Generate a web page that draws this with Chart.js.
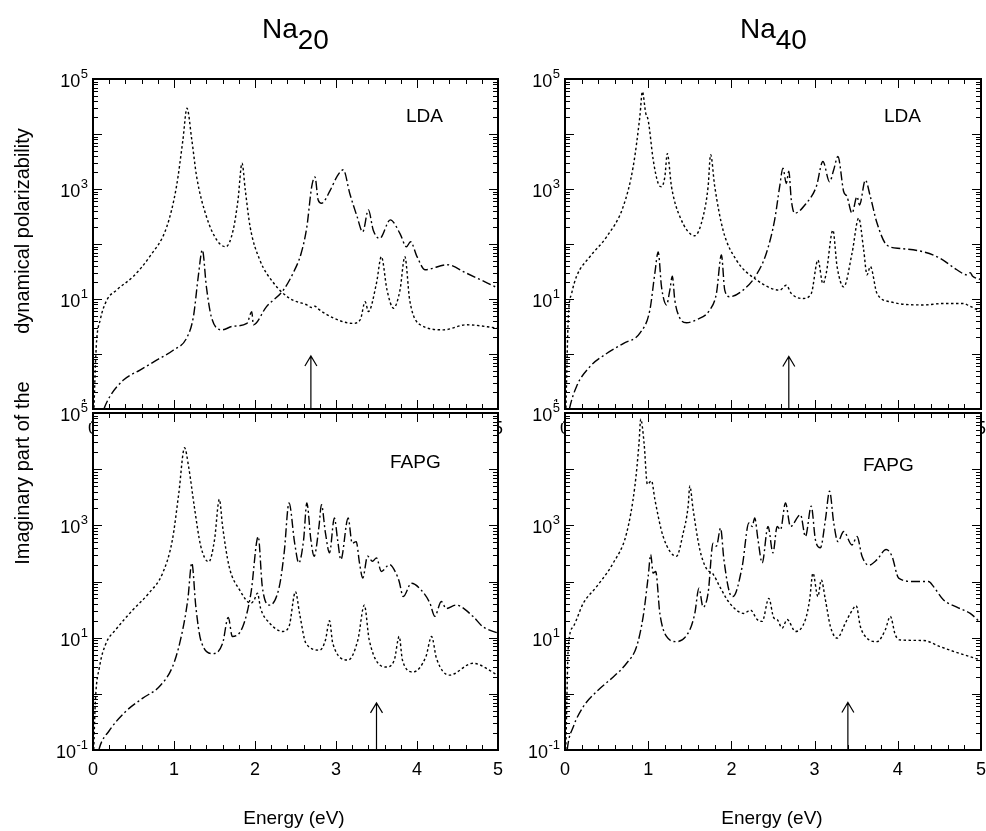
<!DOCTYPE html>
<html><head><meta charset="utf-8">
<script src="https://cdn.jsdelivr.net/npm/chart.js@4.4.1/dist/chart.umd.min.js"></script>
<style>
html,body{margin:0;padding:0;background:#fff;width:986px;height:831px;overflow:hidden;position:relative;}
canvas{position:absolute;left:0;top:0;}
.t{position:absolute;font-family:'Liberation Sans',Arial,Helvetica,sans-serif;color:#000;white-space:nowrap;}
</style></head><body>
<canvas id="c1" width="986" height="831"></canvas>
<canvas id="c2" width="986" height="831"></canvas>
<canvas id="c3" width="986" height="831"></canvas>
<canvas id="c4" width="986" height="831"></canvas>
<div class="t" style="left:262px;top:15px;font-size:28px;line-height:28px">Na<span style="position:relative;top:11px">20</span></div>
<div class="t" style="left:740px;top:15px;font-size:28px;line-height:28px">Na<span style="position:relative;top:11px">40</span></div>
<div class="t" style="left:-108px;top:221px;width:260px;height:20px;line-height:20px;font-size:20px;text-align:center;transform:rotate(-90deg)">dynamical polarizability</div>
<div class="t" style="left:-88px;top:463px;width:220px;height:20px;line-height:20px;font-size:20px;text-align:center;transform:rotate(-90deg)">Imaginary part of the</div>
<div class="t" style="left:194px;top:808px;width:200px;text-align:center;font-size:19px;line-height:19px">Energy (eV)</div>
<div class="t" style="left:672px;top:808px;width:200px;text-align:center;font-size:19px;line-height:19px">Energy (eV)</div>
<div class="t" style="left:406px;top:106px;font-size:19px;line-height:19px">LDA</div>
<div class="t" style="left:884px;top:106px;font-size:19px;line-height:19px">LDA</div>
<div class="t" style="left:390px;top:452px;font-size:19px;line-height:19px">FAPG</div>
<div class="t" style="left:863px;top:455px;font-size:19px;line-height:19px">FAPG</div>
<script>
// ---- data (Energy in eV, imaginary part of dynamical polarizability) ----
const xTickLabels = ['0','1','2','3','4','5'];
const yTickValues = [100000, 1000, 10, 0.1];
const yTickExponents = ['5','3','1','-1'];

// Na20, LDA
const na20LdaDotE = [0.00,0.04,0.09,0.17,0.29,0.50,0.70,0.91,1.03,1.11,1.16,1.22,1.28,1.40,1.53,1.64,1.73,1.79,1.84,1.88,1.94,2.06,2.23,2.43,2.64,2.70,2.74,2.78,2.97,3.21,3.30,3.36,3.40,3.50,3.56,3.63,3.71,3.79,3.85,3.91,4.04,4.33,4.61,5.00];
const na20LdaDotV = [0.03,1.35,4.2,9.5,14.5,26,59,204,1100,7800,29500,7800,1660,316,117,89,178,630,2950,955,204,51,19.5,10.2,7.8,7.0,7.4,6.6,4.5,3.6,4.2,8.9,5.9,19.5,59,14.5,6.8,14.5,59,9.5,3.4,2.75,3.4,2.95];
const na20LdaDashE = [0.08,0.13,0.21,0.38,0.58,0.79,0.99,1.16,1.24,1.30,1.35,1.40,1.46,1.59,1.73,1.90,1.96,1.98,2.14,2.35,2.47,2.57,2.64,2.70,2.74,2.78,2.82,2.93,3.01,3.09,3.17,3.26,3.33,3.40,3.46,3.54,3.67,3.79,3.87,3.92,4.00,4.10,4.37,4.61,5.00];
const na20LdaDashV = [0.05,0.095,0.17,0.34,0.51,0.78,1.17,2.0,4.8,26,78,16.6,4.8,2.75,3.2,3.6,5.9,3.4,7.2,14.5,29.5,68,204,1100,1660,630,550,955,1660,2240,830,316,166,417,178,126,275,155,89,110,59,34,42,29.5,15.8];

// Na40, LDA
const na40LdaDotE = [0.00,0.01,0.04,0.08,0.14,0.30,0.50,0.70,0.82,0.90,0.93,0.97,1.00,1.06,1.12,1.16,1.20,1.23,1.28,1.38,1.56,1.66,1.72,1.75,1.80,1.90,2.06,2.30,2.58,2.66,2.72,2.86,2.96,3.04,3.10,3.14,3.22,3.27,3.35,3.45,3.53,3.59,3.63,3.67,3.75,3.91,4.31,4.55,4.79,4.85,5.00];
const na40LdaDotV = [0.03,0.095,4.8,12.6,26,59,135,480,2570,21000,59000,24000,17800,3400,1260,1100,1660,4400,1100,316,141,316,1100,4200,1100,178,51,22.4,14.5,17.8,12.6,10.2,12.6,51,19,29.5,178,39,16.6,68,295,78,27.5,39,12.6,8.9,7.8,8.3,8.3,7.6,5.9];
const na40LdaDashE = [0.02,0.05,0.14,0.30,0.50,0.70,0.90,1.02,1.08,1.12,1.16,1.22,1.26,1.29,1.32,1.38,1.46,1.58,1.74,1.82,1.88,1.92,1.98,2.14,2.30,2.42,2.52,2.58,2.62,2.66,2.69,2.72,2.76,2.90,3.02,3.10,3.18,3.23,3.28,3.35,3.39,3.45,3.51,3.54,3.61,3.67,3.75,3.87,4.03,4.31,4.51,4.71,4.83,4.87,4.90,5.00];
const na40LdaDashV = [0.05,0.095,0.26,0.59,1.02,1.55,2.4,6.3,29.5,72,16.6,7.8,14.5,26,9.5,4.5,3.7,4.2,6.3,12.6,63,14.5,11,14.5,27.5,68,275,1100,2400,1260,2100,630,363,550,1100,3160,1350,2240,3900,890,725,363,725,513,1450,725,240,95,83,72,55,34,27.5,30,26,22.4];

// Na20, FAPG
const na20FapgDotE = [0.00,0.01,0.03,0.08,0.16,0.28,0.49,0.69,0.86,0.98,1.06,1.13,1.18,1.25,1.33,1.43,1.50,1.56,1.60,1.68,1.81,1.95,1.99,2.03,2.07,2.18,2.34,2.42,2.50,2.55,2.63,2.80,2.87,2.92,2.96,3.15,3.27,3.35,3.41,3.62,3.72,3.78,3.82,3.95,4.11,4.18,4.24,4.40,4.69,5.00];
const na20FapgDotV = [0.03,0.11,0.78,3.0,7.9,13.8,31,62,141,550,3800,24000,11200,2190,427,224,550,2900,955,186,71,41,47,62,33,18.2,12.9,15.8,66,27,7.9,6.0,9.1,20,7.9,4.0,9.1,38,9.1,3.0,4.0,10.5,4.0,2.45,4.6,10.5,4.3,2.15,3.5,2.15];
const na20FapgDashE = [0.03,0.08,0.20,0.40,0.61,0.82,0.98,1.08,1.17,1.22,1.27,1.33,1.48,1.60,1.67,1.72,1.85,1.95,2.04,2.09,2.18,2.30,2.36,2.42,2.49,2.54,2.60,2.64,2.69,2.73,2.79,2.82,2.87,2.92,2.98,3.02,3.06,3.15,3.20,3.25,3.29,3.33,3.39,3.45,3.50,3.56,3.66,3.74,3.78,3.83,3.93,4.05,4.16,4.22,4.30,4.36,4.48,4.69,4.81,5.00];
const na20FapgDashV = [0.05,0.11,0.22,0.48,0.83,1.35,3.0,9.1,47,214,35,9.1,5.2,7.9,23,10.5,15.8,62,630,81,38,81,324,2510,479,214,550,2510,550,282,955,2340,724,324,1350,550,245,1350,479,513,214,115,282,229,263,151,200,141,100,54,93,71,41,24,44,33,38,24,15.8,12];

// Na40, FAPG
const na40FapgDotE = [0.00,0.01,0.04,0.10,0.22,0.38,0.58,0.74,0.84,0.89,0.91,0.95,0.99,1.04,1.08,1.18,1.34,1.42,1.48,1.50,1.54,1.62,1.70,1.78,1.86,1.98,2.15,2.23,2.31,2.37,2.45,2.51,2.55,2.61,2.67,2.77,2.89,2.94,2.98,3.04,3.08,3.13,3.19,3.27,3.37,3.43,3.50,3.55,3.63,3.75,3.85,3.91,3.97,4.03,4.31,4.51,4.75,5.00];
const na40FapgDotV = [0.03,0.11,6.9,15.8,41,81,214,724,5000,29500,78000,29500,5400,6200,2900,630,282,724,2190,5000,1900,372,170,135,81,41,27,31,21,19.5,50,22.4,21,14.8,21,12.9,21,47,141,54,107,47,15.8,9.8,18.2,27,37,15.8,9.8,8.5,13.8,24,11.2,9.1,8.9,6.9,5.2,4.0];
const na40FapgDashE = [0.01,0.03,0.10,0.22,0.38,0.58,0.74,0.86,0.94,1.00,1.03,1.06,1.09,1.14,1.22,1.34,1.50,1.56,1.61,1.66,1.72,1.78,1.82,1.87,1.91,1.98,2.02,2.13,2.21,2.25,2.28,2.32,2.37,2.44,2.50,2.55,2.59,2.65,2.71,2.83,2.89,2.96,3.01,3.07,3.13,3.18,3.23,3.28,3.35,3.45,3.51,3.57,3.65,3.75,3.86,3.93,4.01,4.19,4.37,4.43,4.55,4.71,4.87,5.00];
const na40FapgDashV = [0.05,0.11,0.26,0.59,1.1,2.0,3.5,6.9,24,123,302,141,151,27,10.5,8.5,13.8,27,76,35,62,479,427,890,245,62,54,186,1100,955,1350,550,214,955,324,955,832,2510,955,1550,631,2190,550,398,1260,4070,1100,513,776,447,631,282,195,245,372,282,115,100,100,81,47,35,27,18.2];

// arrows marking an energy in each panel: [Na20 LDA, Na40 LDA, Na20 FAPG, Na40 FAPG]
const arrowEnergy = [2.69, 2.69, 3.50, 3.40];
const arrowTip = [0.92, 0.9, 0.69, 0.7];

// ---- drawing ----
const FONT = "'Liberation Sans', Arial, Helvetica, sans-serif";
Chart.defaults.font.family = FONT;
Chart.defaults.color = '#000';

function pts(E, V) { return E.map((e, i) => ({x: e, y: V[i]})); }

const panelPlugin = {
  id: 'panel',
  beforeDraw(chart, args, opts) {
    if (!opts.cover) return;
    const ctx = chart.ctx, a = chart.chartArea;
    ctx.save();
    ctx.fillStyle = '#fff';
    ctx.fillRect(a.left, a.top, a.right - a.left, a.bottom - a.top);
    ctx.fillRect(a.left - 46, a.top - 11, 44, 21);
    ctx.restore();
  },
  afterDraw(chart, args, opts) {
    const ctx = chart.ctx, a = chart.chartArea;
    const xs = chart.scales.x, ys = chart.scales.y;
    ctx.save();
    ctx.strokeStyle = '#000';
    ctx.fillStyle = '#000';
    // inward tick marks
    ctx.lineWidth = 1;
    ctx.beginPath();
    for (let i = 0; i <= 25; i++) {
      const v = i / 5;
      const px = Math.round(xs.getPixelForValue(v)) + 0.5;
      const len = (i % 5 === 0) ? 9 : 5;
      ctx.moveTo(px, a.bottom); ctx.lineTo(px, a.bottom - len);
      ctx.moveTo(px, a.top); ctx.lineTo(px, a.top + len);
    }
    for (let d = -1; d <= 4; d++) {
      for (let m = 1; m <= 9; m++) {
        const v = m * Math.pow(10, d);
        const py = Math.round(ys.getPixelForValue(v)) + 0.5;
        const len = (m === 1) ? 9 : 5;
        ctx.moveTo(a.left, py); ctx.lineTo(a.left + len, py);
        ctx.moveTo(a.right, py); ctx.lineTo(a.right - len, py);
      }
    }
    ctx.stroke();
    // frame
    ctx.lineWidth = 2;
    ctx.strokeRect(a.left, a.top, a.right - a.left, a.bottom - a.top);
    // y tick labels 10^n
    ctx.textBaseline = 'alphabetic';
    ctx.textAlign = 'left';
    yTickValues.forEach((v, i) => {
      const py = ys.getPixelForValue(v);
      const exp = yTickExponents[i];
      ctx.font = '13px ' + FONT;
      const ew = ctx.measureText(exp).width;
      const right = a.left - 5;
      ctx.fillText(exp, right - ew, py - 1);
      ctx.font = '18px ' + FONT;
      const bw = ctx.measureText('10').width;
      ctx.fillText('10', right - ew - bw - 0.5, py + 8);
    });
    // arrow
    const ax = xs.getPixelForValue(opts.arrowE);
    const at = ys.getPixelForValue(opts.arrowTip);
    ctx.lineWidth = 1.2;
    ctx.beginPath();
    ctx.moveTo(ax, a.bottom); ctx.lineTo(ax, at);
    ctx.moveTo(ax - 6, at + 10); ctx.lineTo(ax, at); ctx.lineTo(ax + 6, at + 10);
    ctx.stroke();
    ctx.restore();
  }
};

function makeChart(id, area, dotE, dotV, dashE, dashV, idx, cover) {
  const padding = {left: area.left - 60, right: 986 - area.right, top: area.top, bottom: 831 - area.bottom - 40};
  return new Chart(document.getElementById(id), {
    type: 'line',
    data: {
      datasets: [
        {data: pts(dotE, dotV), borderColor: '#000', borderWidth: 1.4, borderDash: [2.5, 2.5],
         pointRadius: 0, fill: false, cubicInterpolationMode: 'monotone'},
        {data: pts(dashE, dashV), borderColor: '#000', borderWidth: 1.4, borderDash: [9, 3, 2, 3],
         pointRadius: 0, fill: false, cubicInterpolationMode: 'monotone'}
      ]
    },
    options: {
      responsive: false, animation: false, devicePixelRatio: 1,
      layout: {padding},
      events: [],
      plugins: {
        legend: {display: false}, tooltip: {enabled: false},
        panel: {cover, arrowE: arrowEnergy[idx], arrowTip: arrowTip[idx]}
      },
      scales: {
        x: {
          type: 'linear', min: 0, max: 5,
          ticks: {stepSize: 1, autoSkip: false, maxRotation: 0, padding: 9, color: '#000',
                  font: {size: 18, family: FONT},
                  callback: (v) => xTickLabels[Math.round(v)]},
          grid: {display: false, drawTicks: false}, border: {display: false},
          afterFit(s) { s.height = 40; s.paddingLeft = 0; s.paddingRight = 0; }
        },
        y: {
          type: 'logarithmic', min: 0.1, max: 100000,
          ticks: {display: false},
          grid: {display: false, drawTicks: false}, border: {display: false},
          afterFit(s) { s.width = 60; s.paddingTop = 0; s.paddingBottom = 0; }
        }
      }
    },
    plugins: [panelPlugin]
  });
}

makeChart('c1', {left: 93, right: 498, top: 79, bottom: 409}, na20LdaDotE, na20LdaDotV, na20LdaDashE, na20LdaDashV, 0, false);
makeChart('c2', {left: 565, right: 981, top: 79, bottom: 409}, na40LdaDotE, na40LdaDotV, na40LdaDashE, na40LdaDashV, 1, false);
makeChart('c3', {left: 93, right: 498, top: 413, bottom: 750}, na20FapgDotE, na20FapgDotV, na20FapgDashE, na20FapgDashV, 2, true);
makeChart('c4', {left: 565, right: 981, top: 413, bottom: 750}, na40FapgDotE, na40FapgDotV, na40FapgDashE, na40FapgDashV, 3, true);
</script>
</body></html>
